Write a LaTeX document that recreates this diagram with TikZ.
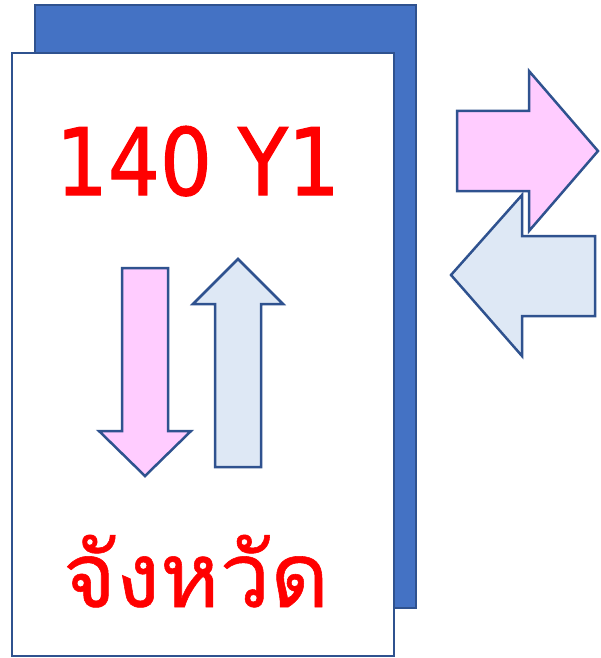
\documentclass[tikz,border=0pt]{standalone}
\usepackage{fontspec}
\usepackage{graphicx}
\newfontfamily\thaifont[Script=Thai,FakeBold=0.6]{Loma}
\newfontfamily\latinfont[FakeBold=1.2]{DejaVu Sans}
\definecolor{cardblue}{HTML}{4472C4}
\definecolor{edgeblue}{HTML}{2F528F}
\definecolor{pinkfill}{HTML}{FFCCFF}
\definecolor{paleblue}{HTML}{DEE8F5}
\begin{document}
\begin{tikzpicture}[x=1pt,y=-1pt,
  backcard/.style={fill=cardblue,draw=edgeblue,line width=2.5pt},
  frontcard/.style={fill=white,draw=edgeblue,line width=2.5pt},
  pinkarrow/.style={fill=pinkfill,draw=edgeblue,line width=2.5pt,line join=miter},
  bluearrow/.style={fill=paleblue,draw=edgeblue,line width=2.5pt,line join=miter},
  bigtext/.style={text=red,inner sep=0pt,anchor=base}]
\useasboundingbox (0,0) rectangle (600,658);
\draw[backcard] (35,5) rectangle (416,608);
\draw[frontcard] (12,53) rectangle (394,656);
% side arrows
\draw[pinkarrow] (457,111)--(529,111)--(529,71)--(598,151)--(529,231)--(529,191)--(457,191)--cycle;
\draw[bluearrow] (595,236)--(522,236)--(522,195)--(451,275)--(522,356)--(522,316)--(595,316)--cycle;
% inner arrows
\draw[pinkarrow] (122,268)--(168,268)--(168,431)--(191,431)--(145,476)--(99,431)--(122,431)--cycle;
\draw[bluearrow] (215,467)--(261,467)--(261,304)--(283,304)--(238,259)--(193,304)--(215,304)--cycle;
% texts
\node[bigtext] (code) at (198,195) {\scalebox{0.88}[1]{\latinfont\fontsize{93}{93}\selectfont 140 Y1}};
\node[bigtext] (prov) at (196,607) {\resizebox{266pt}{!}{\thaifont จังหวัด}};
\end{tikzpicture}
\end{document}
